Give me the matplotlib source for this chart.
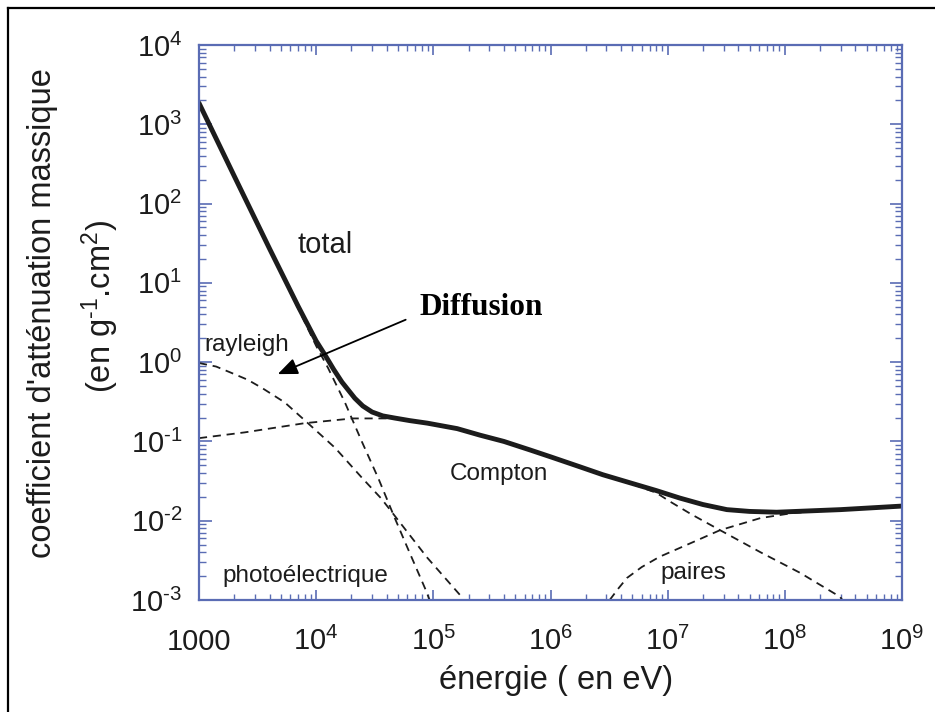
import matplotlib
matplotlib.use("Agg")
import matplotlib.pyplot as plt
from matplotlib.lines import Line2D
from matplotlib.ticker import LogLocator, FixedLocator, NullFormatter

plt.rcParams['font.family'] = ['Liberation Sans', 'DejaVu Sans']
plt.rcParams['mathtext.fontset'] = 'custom'
plt.rcParams['mathtext.rm'] = 'Liberation Sans'
plt.rcParams['axes.unicode_minus'] = False

# values (energy in eV, coefficient in g-1.cm2)
total_e = [1e3, 2e3, 4e3, 7e3, 1e4, 1.19e4, 1.41e4, 1.66e4, 2.14e4, 2.5e4, 3.0e4,
           3.7e4, 4.7e4, 6.3e4, 8.9e4, 1.6e5, 2.5e5, 4e5, 6.7e5, 1e6, 1.8e6,
           2.8e6, 4.8e6, 8e6, 1.27e7, 2e7, 3.2e7, 5e7, 8.5e7, 3e8, 1e9]
total_v = [1850, 222, 27, 5.1, 1.85, 1.23, 0.81, 0.56, 0.35, 0.28, 0.235,
           0.21, 0.197, 0.183, 0.17, 0.145, 0.12, 0.10, 0.078, 0.064, 0.0476,
           0.038, 0.030, 0.024, 0.0193, 0.016, 0.0138, 0.0131, 0.0128, 0.0138, 0.0153]

photo_e = [1e3, 2e3, 4e3, 7e3, 1e4, 1.26e4, 1.76e4, 2.45e4, 3.4e4, 4.7e4, 6.0e4, 8.5e4, 9.3e4]
photo_v = [1850, 222, 26.7, 4.8, 1.6, 0.85, 0.31, 0.10, 0.034, 0.0107, 0.0046, 0.0014, 0.001]

rayleigh_e = [1e3, 1.4e3, 1.9e3, 2.6e3, 3.47e3, 5.4e3, 8.5e3, 1.45e4, 2.45e4, 3.6e4,
              5.4e4, 8.9e4, 1.74e5, 1.8e5]
rayleigh_v = [0.975, 0.88, 0.73, 0.6, 0.47, 0.31, 0.17, 0.083, 0.035, 0.019,
              0.0088, 0.0034, 0.0011, 0.001]

compton_e = [1e3, 2.45e3, 8e3, 2.05e4, 4.7e4, 8.9e4, 1.6e5, 2.5e5, 4e5, 6.7e5, 1e6,
             1.8e6, 2.8e6, 4.8e6, 8e6, 1.05e7, 1.6e7, 2.8e7, 6.2e7, 1.35e8, 2.95e8, 3.1e8]
compton_v = [0.11, 0.13, 0.17, 0.195, 0.195, 0.168, 0.144, 0.119, 0.099, 0.077, 0.063,
             0.047, 0.0375, 0.0295, 0.0225, 0.0174, 0.012, 0.0076, 0.0040, 0.0022, 0.0011, 0.001]

pair_e = [3.2e6, 3.8e6, 4.5e6, 6e6, 8.5e6, 1.66e7, 2.8e7, 6.2e7, 1.17e8, 3e8, 1e9]
pair_v = [0.001, 0.0014, 0.0019, 0.0026, 0.0035, 0.0054, 0.0076, 0.0108, 0.0125, 0.0137, 0.0152]

HY = '\u2010'  # short hyphen used as minus in the superscripts
xticks = [1e3, 1e4, 1e5, 1e6, 1e7, 1e8, 1e9]
xlabels = ['1000'] + [r'$\mathregular{10^{%d}}$' % n for n in range(4, 10)]
yticks = [10.0 ** n for n in range(-3, 5)]
ylabels = [r'$\mathregular{10^{%s}}$' % str(n).replace('-', HY) for n in range(-3, 5)]

frame = '#5a6cb4'
ink = '#1c1c1c'

fig = plt.figure(figsize=(9.35, 7.12), dpi=100)
ax = fig.add_axes([199 / 935, 112 / 712, 703 / 935, 555 / 712])

dash = (0, (4.5, 3.2))
ax.plot(photo_e, photo_v, color=ink, lw=1.3, linestyle=dash)
ax.plot(rayleigh_e, rayleigh_v, color=ink, lw=1.3, linestyle=dash)
ax.plot(compton_e, compton_v, color=ink, lw=1.3, linestyle=dash)
ax.plot(pair_e, pair_v, color=ink, lw=1.3, linestyle=dash)
ax.plot(total_e, total_v, color=ink, lw=3.5, solid_capstyle='round',
        solid_joinstyle='round')

ax.set_xscale('log')
ax.set_yscale('log')
ax.set_xlim(1e3, 1e9)
ax.set_ylim(1e-3, 1e4)

ax.xaxis.set_major_locator(FixedLocator(xticks))
ax.set_xticklabels(xlabels)
ax.xaxis.set_minor_locator(LogLocator(base=10, subs=range(2, 10), numticks=20))
ax.xaxis.set_minor_formatter(NullFormatter())
ax.yaxis.set_major_locator(FixedLocator(yticks))
ax.set_yticklabels(ylabels)
ax.yaxis.set_minor_locator(LogLocator(base=10, subs=range(2, 10), numticks=20))
ax.yaxis.set_minor_formatter(NullFormatter())

for s in ax.spines.values():
    s.set_color(frame)
    s.set_linewidth(1.6)

ax.tick_params(axis='both', which='both', direction='in', top=True, right=True,
               color=frame, labelcolor=ink, labelsize=21)
ax.tick_params(axis='x', which='major', length=7.5, width=1.2, pad=36)
ax.tick_params(axis='x', which='minor', length=4, width=1.0)
ax.tick_params(axis='y', which='major', length=9, width=1.2, pad=12)
ax.tick_params(axis='y', which='minor', length=5, width=1.0)
for lab in ax.get_xticklabels():
    lab.set_va('baseline')

# curve names
ax.text(0.179, 0.640, 'total', transform=ax.transAxes, fontsize=21, color=ink,
        ha='center', va='center')
ax.text(0.008, 0.460, 'rayleigh', transform=ax.transAxes, fontsize=17.5, color=ink,
        ha='left', va='center')
ax.text(0.427, 0.227, 'Compton', transform=ax.transAxes, fontsize=17.5, color=ink,
        ha='center', va='center')
ax.text(0.151, 0.043, 'photoélectrique', transform=ax.transAxes, fontsize=17.5,
        color=ink, ha='center', va='center')
ax.text(0.703, 0.049, 'paires', transform=ax.transAxes, fontsize=17.5, color=ink,
        ha='center', va='center')

ax.text(0.401, 0.527, 'Diffusion', transform=ax.transAxes, fontsize=22.5,
        family='Liberation Serif', weight='bold', color='black',
        ha='center', va='center')
ax.annotate('', xy=(0.112, 0.407), xytext=(0.294, 0.505),
            xycoords='axes fraction', textcoords='axes fraction',
            arrowprops=dict(arrowstyle='-|>,head_length=0.6,head_width=0.25',
                            mutation_scale=20, color='black', lw=1.3,
                            shrinkA=0, shrinkB=0))

# axis titles
fig.text(556 / 935, 1 - 681 / 712, 'énergie ( en eV)', fontsize=23.5, color=ink,
         ha='center', va='center')
fig.text(43 / 935, 1 - 313 / 712, "coefficient d'atténuation massique",
         fontsize=23.5, color=ink, rotation=90, ha='center', va='center')
fig.text(100 / 935, 1 - 306 / 712,
         r'(en g$\mathregular{^{' + HY + r'1}}$.cm$\mathregular{^{2}}$)',
         fontsize=23.5, color=ink, rotation=90, ha='center', va='center')

# outer border (only top and left edges are inside the picture)
fig.add_artist(Line2D([8 / 935, 1.0], [1 - 8 / 712, 1 - 8 / 712],
                      transform=fig.transFigure, color='black', lw=1.6))
fig.add_artist(Line2D([8 / 935, 8 / 935], [0.0, 1 - 8 / 712],
                      transform=fig.transFigure, color='black', lw=1.6))

fig.savefig('out.png', dpi=100)
